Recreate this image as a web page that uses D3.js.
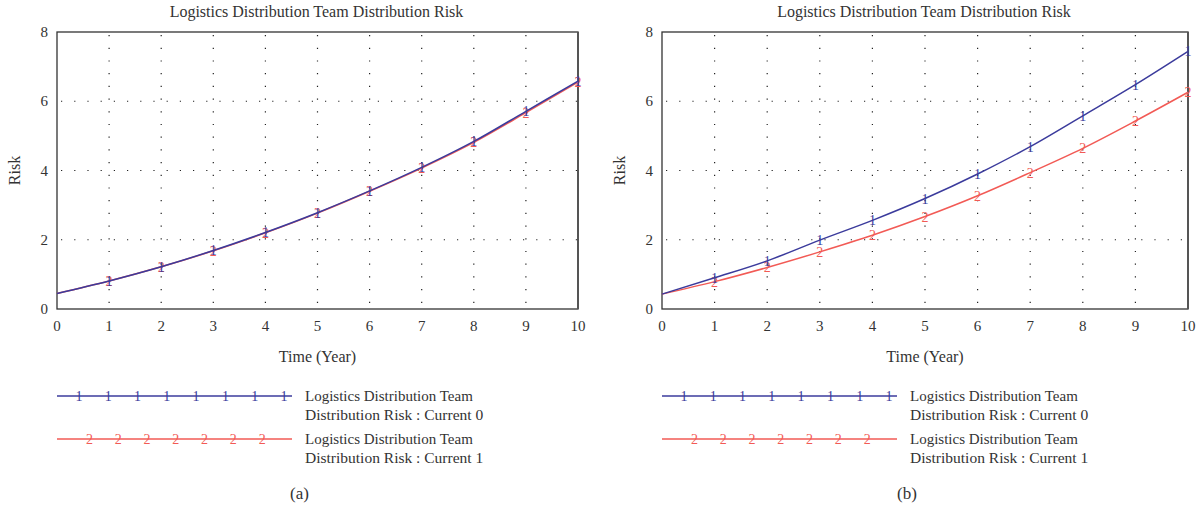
<!DOCTYPE html>
<html>
<head>
<meta charset="utf-8">
<script src="https://cdnjs.cloudflare.com/ajax/libs/d3/7.8.5/d3.min.js"></script>
<style>
  body { margin: 0; background: #fff; }
  svg { display: block; }
  text { font-family: "Liberation Serif", "DejaVu Serif", serif; fill: #333; }
</style>
</head>
<body>
<div id="chart"></div>
<script>
// values
var years = [0, 1, 2, 3, 4, 5, 6, 7, 8, 9, 10];
var riskA0 = [0.45, 0.81, 1.22, 1.69, 2.21, 2.78, 3.41, 4.09, 4.84, 5.71, 6.58];
var riskA1 = [0.45, 0.81, 1.22, 1.68, 2.20, 2.77, 3.40, 4.07, 4.81, 5.67, 6.55];
var riskB0 = [0.43, 0.90, 1.39, 1.99, 2.56, 3.19, 3.90, 4.69, 5.58, 6.48, 7.44];
var riskB1 = [0.43, 0.79, 1.20, 1.65, 2.13, 2.67, 3.27, 3.94, 4.64, 5.43, 6.26];
var yTicks = [0, 2, 4, 6, 8];
var xTicks = [0, 1, 2, 3, 4, 5, 6, 7, 8, 9, 10];
var title = "Logistics Distribution Team Distribution Risk";
var legendNames = ["Logistics Distribution Team|Distribution Risk : Current 0",
                   "Logistics Distribution Team|Distribution Risk : Current 1"];

var W = 1202, H = 510;
var blue = "#3b3b9c", red = "#f25a55";

var svg = d3.select("#chart").append("svg")
    .attr("width", W)
    .attr("height", H);

function drawPanel(left, right, s0, s1, caption) {
    var top = 32, bottom = 309;
    var x = d3.scaleLinear().domain([0, 10]).range([left, right]);
    var y = d3.scaleLinear().domain([0, 8]).range([bottom, top]);
    var g = svg.append("g");

    // title
    g.append("text")
        .attr("x", (left + right) / 2 - 1)
        .attr("y", 17)
        .attr("text-anchor", "middle")
        .attr("font-size", "16px")
        .text(title);

    // dotted grid
    g.selectAll(".vgrid")
        .data(xTicks.slice(1, -1))
        .enter()
        .append("line")
        .attr("x1", function(d) { return x(d); })
        .attr("x2", function(d) { return x(d); })
        .attr("y1", top + 3)
        .attr("y2", bottom)
        .attr("stroke", "#222")
        .attr("stroke-width", 1.2)
        .attr("stroke-dasharray", "1.2,11.5");
    g.selectAll(".hgrid")
        .data(yTicks.slice(1, -1))
        .enter()
        .append("line")
        .attr("x1", left + 4)
        .attr("x2", right)
        .attr("y1", function(d) { return y(d); })
        .attr("y2", function(d) { return y(d); })
        .attr("stroke", "#222")
        .attr("stroke-width", 1.2)
        .attr("stroke-dasharray", "1.2,12");

    // frame
    g.append("rect")
        .attr("x", left)
        .attr("y", top)
        .attr("width", right - left)
        .attr("height", bottom - top)
        .attr("fill", "none")
        .attr("stroke", "#333")
        .attr("stroke-width", 1.3);
    g.append("line")
        .attr("x1", right).attr("x2", right)
        .attr("y1", top).attr("y2", bottom)
        .attr("stroke", "#555")
        .attr("stroke-width", 2);

    // tick labels
    g.selectAll(".ylab")
        .data(yTicks)
        .enter()
        .append("text")
        .attr("x", left - 9)
        .attr("y", function(d) { return y(d) + 5; })
        .attr("text-anchor", "end")
        .attr("font-size", "15px")
        .text(function(d) { return d; });
    g.selectAll(".xlab")
        .data(xTicks)
        .enter()
        .append("text")
        .attr("x", function(d) { return x(d); })
        .attr("y", bottom + 22)
        .attr("text-anchor", "middle")
        .attr("font-size", "15px")
        .text(function(d) { return d; });

    // axis titles
    g.append("text")
        .attr("transform", "translate(" + (left - 37) + "," + ((top + bottom) / 2) + ") rotate(-90)")
        .attr("text-anchor", "middle")
        .attr("font-size", "16px")
        .text("Risk");
    g.append("text")
        .attr("x", (left + right) / 2)
        .attr("y", 362)
        .attr("text-anchor", "middle")
        .attr("font-size", "16px")
        .text("Time (Year)");

    // series
    var series = [
        { values: s1, color: red, mark: "2" },
        { values: s0, color: blue, mark: "1" }
    ];
    var line = d3.line()
        .x(function(d) { return x(d.t); })
        .y(function(d) { return y(d.v); })
        .curve(d3.curveMonotoneX);

    series.forEach(function(s) {
        var pts = years.map(function(t, i) { return { t: t, v: s.values[i] }; });
        g.append("path")
            .datum(pts)
            .attr("d", line)
            .attr("fill", "none")
            .attr("stroke", s.color)
            .attr("stroke-width", 1.5);
        g.selectAll(null)
            .data(pts.slice(1))
            .enter()
            .append("text")
            .attr("x", function(d) { return x(d.t); })
            .attr("y", function(d) { return y(d.v) + 5; })
            .attr("text-anchor", "middle")
            .attr("font-size", "14px")
            .style("fill", s.color)
            .text(s.mark);
    });

    // legend
    var lx = d3.scaleLinear().domain([0, 1]).range([left, left + 235]);
    var rows = [
        { color: blue, mark: "1", ly: 396, marks: d3.range(8).map(function(i) { return 0.094 + i * 0.1245; }), name: legendNames[0] },
        { color: red, mark: "2", ly: 439, marks: d3.range(7).map(function(i) { return 0.138 + i * 0.1225; }), name: legendNames[1] }
    ];
    rows.forEach(function(r) {
        g.append("line")
            .attr("x1", lx(0)).attr("x2", lx(1))
            .attr("y1", r.ly).attr("y2", r.ly)
            .attr("stroke", r.color)
            .attr("stroke-width", 1.6);
        g.selectAll(null)
            .data(r.marks)
            .enter()
            .append("text")
            .attr("x", function(d) { return lx(d); })
            .attr("y", r.ly + 5)
            .attr("text-anchor", "middle")
            .attr("font-size", "14px")
            .style("fill", r.color)
            .text(r.mark);
        var parts = r.name.split("|");
        g.append("text")
            .attr("x", lx(1) + 13)
            .attr("y", r.ly + 5)
            .attr("font-size", "15px")
            .text(parts[0]);
        g.append("text")
            .attr("x", lx(1) + 13)
            .attr("y", r.ly + 24)
            .attr("font-size", "15.5px")
            .text(parts[1]);
    });

    // caption
    g.append("text")
        .attr("x", (left + right) / 2 - 18)
        .attr("y", 499)
        .attr("text-anchor", "middle")
        .attr("font-size", "17px")
        .text(caption);
}

drawPanel(57, 578, riskA0, riskA1, "(a)");
drawPanel(662, 1188, riskB0, riskB1, "(b)");
</script>
</body>
</html>
